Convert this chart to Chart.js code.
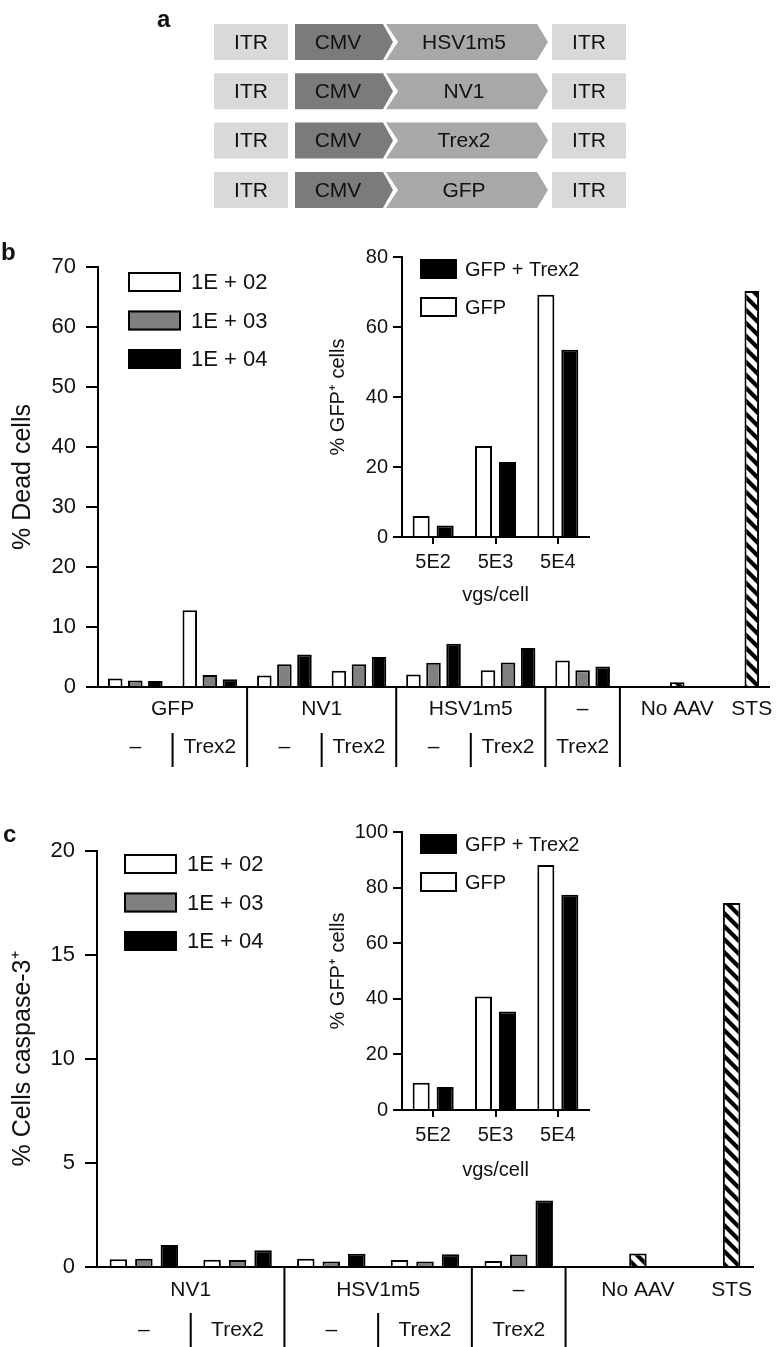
<!DOCTYPE html>
<html>
<head>
<meta charset="utf-8">
<script src="https://cdn.jsdelivr.net/npm/chart.js@4.4.1/dist/chart.umd.min.js"></script>
<style>
  body { margin: 0; background: #fff; }
  #page { position: relative; width: 776px; height: 1347px; overflow: hidden; }
  canvas { position: absolute; }
  .panel { position: absolute; font: bold 24px 'Liberation Sans', Arial, sans-serif; line-height: 24px; color: #111; }
</style>
</head>
<body>
<div id="page">
  <canvas id="schema" width="776" height="220" style="left:0;top:0"></canvas>
  <canvas id="deadChart" width="776" height="540" style="left:0;top:240px"></canvas>
  <canvas id="deadInset" width="280" height="370" style="left:320px;top:240px"></canvas>
  <canvas id="caspChart" width="776" height="547" style="left:0;top:800px"></canvas>
  <canvas id="caspInset" width="280" height="375" style="left:320px;top:815px"></canvas>
  <div class="panel" style="left:157px;top:7px">a</div>
  <div class="panel" style="left:1px;top:240px">b</div>
  <div class="panel" style="left:3px;top:822px">c</div>
</div>
<script>
// ---- panel a ----
const genes = ['HSV1m5', 'NV1', 'Trex2', 'GFP']

// ---- panel b: % dead cells ----
const doseLabels = ['1E + 02', '1E + 03', '1E + 04']
const controlLabels = ['No AAV', 'STS']
const bGroupNames = ['GFP', 'NV1', 'HSV1m5', '–']
const bGroupSpans = [2, 2, 2, 1]
const bSubLabels = ['–', 'Trex2', '–', 'Trex2', '–', 'Trex2', 'Trex2']
const bDose1e2 = [1.4, 12.8, 1.9, 2.7, 2.1, 2.8, 4.4]
const bDose1e3 = [1.1, 2.0, 3.8, 3.8, 4.05, 4.1, 2.8]
const bDose1e4 = [1.0, 1.3, 5.4, 5.0, 7.2, 6.5, 3.4]
const bControls = [0.8, 66]

// insets: % GFP+ cells
const vgsLabels = ['5E2', '5E3', '5E4']
const bInsetGfp = [6.0, 26.0, 69.2]
const bInsetGfpTrex2 = [3.3, 21.4, 53.5]

// ---- panel c: % cells caspase-3+ ----
const cGroupNames = ['NV1', 'HSV1m5', '–']
const cGroupSpans = [2, 2, 1]
const cSubLabels = ['–', 'Trex2', '–', 'Trex2', 'Trex2']
const cDose1e2 = [0.37, 0.35, 0.4, 0.34, 0.29]
const cDose1e3 = [0.4, 0.34, 0.26, 0.27, 0.6]
const cDose1e4 = [1.06, 0.8, 0.64, 0.61, 3.2]
const cControls = [0.65, 17.5]
const cInsetGfp = [9.8, 40.8, 88.1]
const cInsetGfpTrex2 = [8.3, 35.4, 77.4]

Chart.defaults.font.family = "'Liberation Sans', Arial, sans-serif"
Chart.defaults.color = '#111'
Chart.defaults.animation = false

// schematic of the constructs
function drawSchema(){
  var g = document.getElementById('schema').getContext('2d')
  var poly = function(pts){
    g.beginPath()
    pts.forEach(function(p, i){ i ? g.lineTo(p[0], p[1]) : g.moveTo(p[0], p[1]) })
    g.closePath(); g.fill()
  }
  g.font = "21px 'Liberation Sans', Arial, sans-serif"
  g.textAlign = 'center'; g.textBaseline = 'middle'
  genes.forEach(function(gene, r){
    var y = 24 + r * 49.3, h = 36
    g.fillStyle = '#d9d9d9'; g.fillRect(214, y, 74, h); g.fillRect(552, y, 74, h)
    g.fillStyle = '#7b7b7b'; poly([[295, y], [383, y], [393, y + h / 2], [383, y + h], [295, y + h]])
    g.fillStyle = '#a8a8a8'; poly([[386, y], [537, y], [548, y + h / 2], [537, y + h], [386, y + h], [398, y + h / 2]])
    g.fillStyle = '#111'
    g.fillText('ITR', 251, y + h / 2 + 1); g.fillText('ITR', 589, y + h / 2 + 1)
    g.fillText('CMV', 338, y + h / 2 + 1); g.fillText(gene, 464, y + h / 2 + 1)
  })
}

function hatch(){
  var c = document.createElement('canvas'); c.width = 13; c.height = 13
  var g = c.getContext('2d')
  g.fillStyle = '#fff'; g.fillRect(0, 0, 13, 13)
  g.strokeStyle = '#000'; g.lineWidth = 4.2
  g.beginPath()
  for (var k = -1; k <= 1; k++){ g.moveTo(-3, -3 + 13 * k); g.lineTo(16, 16 + 13 * k) }
  g.stroke()
  return g.createPattern(c, 'repeat')
}

// boxes + text legend drawn inside the chart area
const boxLegend = {
  id: 'boxLegend',
  afterDraw(chart, args, o){
    var ctx = chart.ctx, area = chart.chartArea
    ctx.save()
    ctx.font = o.font; ctx.textBaseline = 'middle'; ctx.textAlign = 'left'
    o.order.forEach(function(di, row){
      var ds = chart.data.datasets[di]
      var x = area.left + o.x, y = area.top + o.y + row * o.pitch
      ctx.fillStyle = ds.backgroundColor; ctx.fillRect(x, y, o.w, o.h)
      ctx.strokeStyle = '#000'; ctx.lineWidth = 2; ctx.strokeRect(x + 1, y + 1, o.w - 2, o.h - 2)
      ctx.fillStyle = '#111'; ctx.fillText(ds.label, x + o.w + o.gap, y + o.h / 2 + 1)
    })
    ctx.restore()
  }
}

// two rows of category labels with separators under the x axis
const groupLabels = {
  id: 'groupLabels',
  afterDraw(chart, args, o){
    var ctx = chart.ctx, x = chart.scales.x
    var step = x.getPixelForValue(1) - x.getPixelForValue(0)
    var edge = function(i){ return x.getPixelForValue(i) - step / 2 }
    var base = x.top
    var line = function(px, y0, y1){ ctx.beginPath(); ctx.moveTo(px, y0); ctx.lineTo(px, y1); ctx.stroke() }
    ctx.save()
    ctx.font = o.font; ctx.fillStyle = '#111'; ctx.textAlign = 'center'; ctx.textBaseline = 'middle'
    ctx.strokeStyle = '#000'; ctx.lineWidth = 2
    var i = 0
    o.names.forEach(function(name, gi){
      var span = o.spans[gi]
      ctx.fillText(name, (edge(i) + edge(i + span)) / 2, base + o.row1)
      for (var k = 0; k < span; k++) ctx.fillText(o.subs[i + k], x.getPixelForValue(i + k), base + o.row2)
      if (span == 2) line(edge(i + 1), base + o.subTop, base + o.end)
      i += span
      line(edge(i), base, base + o.end)
    })
    var first = i
    chart.getDatasetMeta(3).data.forEach(function(bar, k){
      if (k >= first) ctx.fillText(o.controls[k - first], bar.x, base + o.row1)
    })
    ctx.restore()
  }
}

function mainChart(id, d, opt){
  var n = d.subs.length
  var pad = function(arr){ return arr.concat(d.controls.map(function(){ return null })) }
  var ctrl = d.subs.map(function(){ return null }).concat(d.controls)
  var bar = { borderColor: '#000', borderWidth: 2, categoryPercentage: opt.cp, barPercentage: opt.bp }
  return new Chart(document.getElementById(id), {
    type: 'bar',
    data: {
      labels: d.subs.concat(controlLabels),
      datasets: [
        Object.assign({ label: doseLabels[0], data: pad(d.w), backgroundColor: '#fff', stack: 's1' }, bar),
        Object.assign({ label: doseLabels[1], data: pad(d.g), backgroundColor: '#808080', stack: 's2' }, bar),
        Object.assign({ label: doseLabels[2], data: pad(d.k), backgroundColor: '#000', stack: 's3' }, bar),
        Object.assign({ label: 'controls', data: ctrl, backgroundColor: hatch(), stack: 's3' }, bar)
      ]
    },
    plugins: [boxLegend, groupLabels],
    options: {
      responsive: false,
      events: [],
      layout: { padding: { top: opt.top, right: opt.right, left: 0, bottom: 0 } },
      plugins: {
        legend: { display: false },
        tooltip: { enabled: false },
        boxLegend: { order: [0, 1, 2], x: opt.legX, y: opt.legY, w: 53, h: 20, pitch: 38.5, gap: 10, font: "22px 'Liberation Sans', Arial, sans-serif" },
        groupLabels: { names: d.names, spans: d.spans, subs: d.subs, controls: controlLabels,
          row1: opt.row1, row2: opt.row2, subTop: 46, end: 80, font: "21px 'Liberation Sans', Arial, sans-serif" }
      },
      scales: {
        x: {
          offset: true,
          grid: { display: false },
          border: { display: true, color: '#000', width: 2 },
          ticks: { display: false },
          afterFit: function(s){ s.height = opt.xh }
        },
        y: {
          stacked: true,
          min: 0, max: opt.max,
          ticks: { stepSize: opt.step, padding: 10, font: { size: 22 } },
          grid: { drawOnChartArea: false, tickLength: 12, color: '#000', lineWidth: 2 },
          border: { color: '#000', width: 2 },
          title: { display: true, text: opt.title, font: { size: 25 }, padding: { top: 8, bottom: 0 } },
          afterFit: function(s){ s.width = opt.yw }
        }
      }
    }
  })
}

function insetChart(id, gfp, gfpTrex2, opt){
  var bar = { borderColor: '#000', borderWidth: 2, categoryPercentage: 0.77, barPercentage: 0.71 }
  return new Chart(document.getElementById(id), {
    type: 'bar',
    data: {
      labels: vgsLabels,
      datasets: [
        Object.assign({ label: 'GFP', data: gfp, backgroundColor: '#fff' }, bar),
        Object.assign({ label: 'GFP + Trex2', data: gfpTrex2, backgroundColor: '#000' }, bar)
      ]
    },
    plugins: [boxLegend],
    options: {
      responsive: false,
      events: [],
      layout: { padding: { top: opt.top, right: 11, left: 0, bottom: 0 } },
      plugins: {
        legend: { display: false },
        tooltip: { enabled: false },
        boxLegend: { order: [1, 0], x: 18, y: 2, w: 37, h: 20, pitch: 38, gap: 8, font: "20px 'Liberation Sans', Arial, sans-serif" }
      },
      scales: {
        x: {
          offset: true,
          grid: { display: true, drawOnChartArea: false, offset: false, tickLength: 7, color: '#000', lineWidth: 2 },
          border: { color: '#000', width: 2 },
          ticks: { padding: 6, font: { size: 20 } },
          title: { display: true, text: 'vgs/cell', font: { size: 20 }, padding: { top: 0, bottom: opt.titleBottom } },
          afterFit: function(s){ s.height = opt.xh }
        },
        y: {
          min: 0, max: opt.max,
          ticks: { stepSize: 20, padding: 5, font: { size: 20 } },
          grid: { drawOnChartArea: false, tickLength: 9, color: '#000', lineWidth: 2 },
          border: { color: '#000', width: 2 },
          title: { display: true, text: '% GFP⁺ cells', font: { size: 20 }, padding: { top: 6, bottom: 0 } },
          afterFit: function(s){ s.width = 82 }
        }
      }
    }
  })
}

drawSchema()

mainChart('deadChart',
  { names: bGroupNames, spans: bGroupSpans, subs: bSubLabels, w: bDose1e2, g: bDose1e3, k: bDose1e4, controls: bControls },
  { max: 70, step: 10, title: '% Dead cells', top: 27, right: 7, yw: 98, xh: 93, cp: 0.807, bp: 0.725,
    legX: 30, legY: 5, row1: 22, row2: 60 })

insetChart('deadInset', bInsetGfp, bInsetGfpTrex2, { max: 80, top: 16, xh: 73, titleBottom: 3 })

mainChart('caspChart',
  { names: cGroupNames, spans: cGroupSpans, subs: cSubLabels, w: cDose1e2, g: cDose1e3, k: cDose1e4, controls: cControls },
  { max: 20, step: 5, title: '% Cells caspase-3⁺', top: 51, right: 23, yw: 97, xh: 80, cp: 0.816, bp: 0.686,
    legX: 27, legY: 3, row1: 23, row2: 63 })

insetChart('caspInset', cInsetGfp, cInsetGfpTrex2, { max: 100, top: 15, xh: 80, titleBottom: 8 })
</script>
</body>
</html>
